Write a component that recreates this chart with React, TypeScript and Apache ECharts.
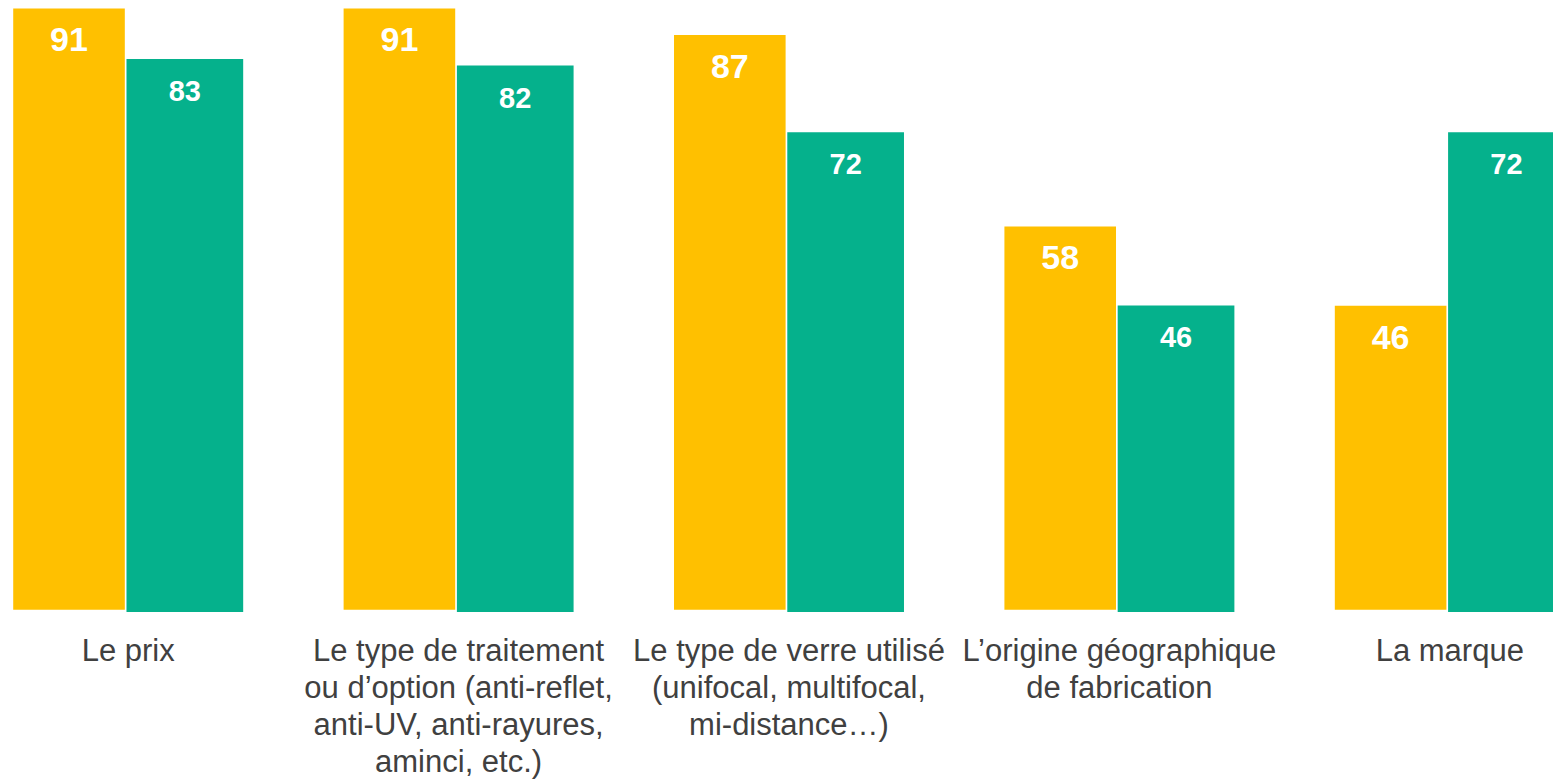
import React, { useEffect, useRef } from "react";
import * as echarts from "echarts";

const categories: string[] = [
  "Le prix",
  "Le type de traitement\nou d’option (anti-reflet,\nanti-UV, anti-rayures,\naminci, etc.)",
  "Le type de verre utilisé\n(unifocal, multifocal,\nmi-distance…)",
  "L’origine géographique\nde fabrication",
  "La marque",
];
const seriesA: number[] = [91, 91, 87, 58, 46];
const seriesB: number[] = [83, 82, 72, 46, 72];

const FONT = "'Liberation Sans', Arial, sans-serif";

export default function App() {
  const ref = useRef<HTMLDivElement>(null);
  useEffect(() => {
    if (!ref.current) return;
    const chart = echarts.init(ref.current, null, { renderer: "svg" });
    chart.setOption({
      animation: false,
      grid: { left: 0, right: 0, top: 0, bottom: 167.7 },
      xAxis: {
        type: "category",
        data: categories,
        axisLine: { show: false },
        axisTick: { show: false },
        splitLine: { show: false },
        axisLabel: {
          interval: 0,
          margin: 20,
          color: "#404040",
          fontSize: 31,
          lineHeight: 37,
          fontFamily: FONT,
          align: "center",
        },
      },
      yAxis: [
        { type: "value", show: false, min: -0.348, max: 92.28, splitLine: { show: false } },
        { type: "value", show: false, min: 0, max: 91.84, splitLine: { show: false } },
      ],
      series: [
        {
          type: "bar",
          data: seriesA,
          yAxisIndex: 0,
          barWidth: 111.6,
          barGap: "1.5%",
          itemStyle: { color: "#FFC000" },
          label: {
            show: true,
            position: ["50%", 31],
            align: "center",
            verticalAlign: "middle",
            color: "#ffffff",
            fontWeight: "bold",
            fontSize: 34,
            fontFamily: FONT,
          },
        },
        {
          type: "bar",
          data: seriesB,
          yAxisIndex: 1,
          barWidth: 116.7,
          barGap: "1.5%",
          itemStyle: { color: "#05B18C" },
          label: {
            show: true,
            position: ["50%", 32],
            align: "center",
            verticalAlign: "middle",
            color: "#ffffff",
            fontWeight: "bold",
            fontSize: 29,
            fontFamily: FONT,
          },
        },
      ],
    });
    return () => chart.dispose();
  }, []);
  return (
    <div
      style={{
        position: "absolute",
        left: 0,
        top: 0,
        width: 1553,
        height: 780,
        overflow: "hidden",
        background: "#ffffff",
      }}
    >
      <div
        ref={ref}
        style={{ position: "absolute", left: -37.5, top: 0, width: 1652, height: 780 }}
      />
    </div>
  );
}
